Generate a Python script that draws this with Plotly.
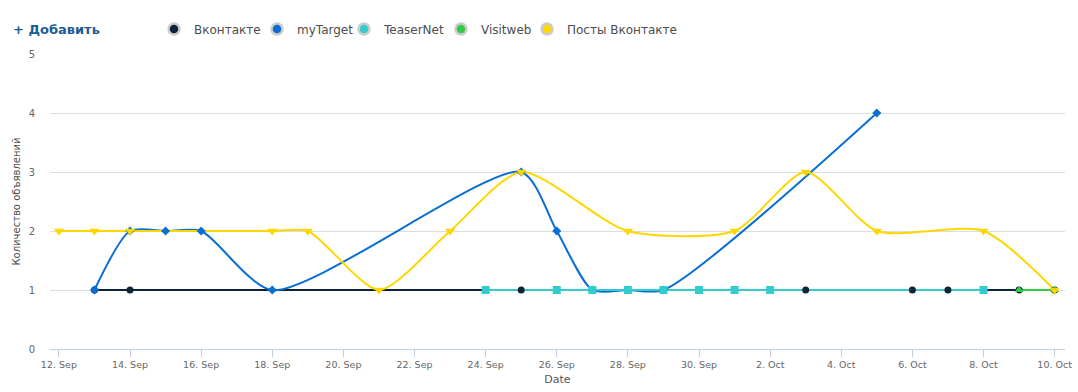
import plotly.graph_objects as go

# ---- data ----
series_names = ["Вконтакте", "myTarget", "TeaserNet", "Visitweb", "Посты Вконтакте"]

vk_dates = ["2014-09-13", "2014-09-14", "2014-09-25", "2014-10-03", "2014-10-06",
            "2014-10-07", "2014-10-09", "2014-10-10"]
vk_vals = [1, 1, 1, 1, 1, 1, 1, 1]

mt_dates = ["2014-09-13", "2014-09-14", "2014-09-15", "2014-09-16", "2014-09-18",
            "2014-09-25", "2014-09-26", "2014-09-27", "2014-09-28", "2014-09-29", "2014-10-05"]
mt_vals = [1, 2, 2, 2, 1, 3, 2, 1, 1, 1, 4]

tn_dates = ["2014-09-24", "2014-09-26", "2014-09-27", "2014-09-28", "2014-09-29",
            "2014-09-30", "2014-10-01", "2014-10-02", "2014-10-08"]
tn_vals = [1, 1, 1, 1, 1, 1, 1, 1, 1]

vw_dates = ["2014-10-09", "2014-10-10"]
vw_vals = [1, 1]

pv_dates = ["2014-09-12", "2014-09-13", "2014-09-14", "2014-09-18", "2014-09-19",
            "2014-09-21", "2014-09-23", "2014-09-25", "2014-09-28", "2014-10-01",
            "2014-10-03", "2014-10-05", "2014-10-08", "2014-10-10"]
pv_vals = [2, 2, 2, 2, 2, 1, 2, 3, 2, 2, 3, 2, 2, 1]

y_title = "Количество объявлений"
x_title = "Date"
add_label = "+ Добавить"

# ---- styles ----
colors = ["#0d233a", "#0a6fd1", "#33cccc", "#33cc44", "#ffd700"]
symbols = ["circle", "diamond", "square", "triangle-up", "triangle-down"]
msizes = [7, 7, 8, 8, 9]
# legend entry x positions (px from figure left)
legend_px = [154, 257, 344, 441, 527]

W, H = 1078, 392

data = [(vk_dates, vk_vals), (mt_dates, mt_vals), (tn_dates, tn_vals),
        (vw_dates, vw_vals), (pv_dates, pv_vals)]

fig = go.Figure()

# lines
for (d, v), c in zip(data, colors):
    fig.add_trace(go.Scatter(x=d, y=v, mode="lines",
                             line=dict(color=c, width=2, shape="spline", smoothing=0.7),
                             showlegend=False, hoverinfo="skip"))
# markers
for (d, v), c, s, ms, n in zip(data, colors, symbols, msizes, series_names):
    fig.add_trace(go.Scatter(x=d, y=v, mode="markers", name=n,
                             marker=dict(color=c, symbol=s, size=ms, line=dict(width=0)),
                             showlegend=False))
# legend entries (one small legend per series so each sits where the reference has it)
legend_layout = {}
for i, (c, n) in enumerate(zip(colors, series_names)):
    key = "legend" if i == 0 else "legend%d" % (i + 1)
    fig.add_trace(go.Scatter(x=[None], y=[None], mode="markers", name=n,
                             marker=dict(color=c, symbol="circle", size=11,
                                         line=dict(color="#cccccc", width=2.5)),
                             showlegend=True, legend=key))
    legend_layout[key] = dict(orientation="h", xref="container", yref="container",
                              x=legend_px[i] / W, y=1 - 29 / H,
                              xanchor="left", yanchor="middle",
                              font=dict(size=12, color="#4d4d4d"), itemclick=False,
                              bgcolor="rgba(0,0,0,0)")

fig.add_annotation(text="<b>" + add_label + "</b>", xref="paper", yref="paper",
                   x=-0.038, y=1.0847, xanchor="left", yanchor="middle", showarrow=False,
                   font=dict(family="DejaVu Sans", size=13, color="#1d5c94"))

fig.update_layout(
    width=W, height=H,
    margin=dict(l=50, r=13, t=54, b=43),
    paper_bgcolor="white", plot_bgcolor="white",
    font=dict(family="DejaVu Sans", color="#666666"),
    showlegend=True,
    hovermode="closest",
    **legend_layout,
)

fig.update_xaxes(
    type="date", automargin=False, ticklabeloverflow="allow",
    range=["2014-09-11 18:00", "2014-10-10 07:00"],
    tick0="2014-09-12", dtick=2 * 86400000, tickformat="%-d. %b",
    ticks="outside", ticklen=7, tickcolor="#c0d0e0", tickwidth=1,
    showline=True, linecolor="#c0d0e0", linewidth=1,
    showgrid=False, zeroline=False,
    tickfont=dict(size=9.5, color="#666666"),
    title=dict(text=x_title, font=dict(size=11, color="#555555"), standoff=5),
)
fig.update_yaxes(
    automargin=False,
    range=[0, 5], dtick=1,
    showgrid=True, gridcolor="#dddddd", gridwidth=1,
    zeroline=False, showline=False,
    ticks="outside", ticklen=12, tickcolor="rgba(0,0,0,0)",
    tickfont=dict(size=10, color="#666666"),
    title=dict(text=y_title, font=dict(size=10, color="#4d4d4d"), standoff=6),
)

# remove the default 8px page margin so the figure fills the window exactly
fig.write_html("out.html", config={"displayModeBar": False},
               post_script="document.body.style.margin='0';")
